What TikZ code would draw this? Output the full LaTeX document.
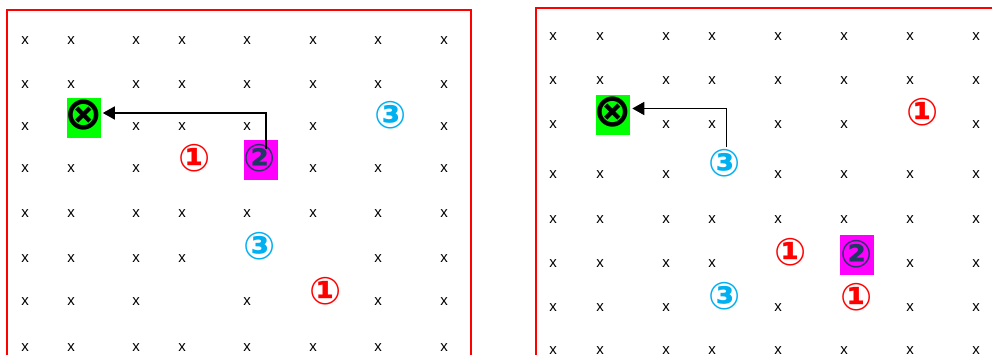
\documentclass[tikz,border=0pt]{standalone}
\usepackage{fontspec}
\setmainfont{Liberation Sans}
\newfontfamily\symf{DejaVu Sans}
\usetikzlibrary{arrows.meta}
\definecolor{myred}{RGB}{255,0,0}
\definecolor{mycyan}{RGB}{0,176,240}
\definecolor{mynavy}{RGB}{31,56,100}
\definecolor{mygreen}{RGB}{0,255,0}
\definecolor{mymag}{RGB}{255,0,255}
\begin{document}
\begin{tikzpicture}[x=1pt,y=-1pt,
  cross/.style={font=\fontsize{15}{15}\selectfont, inner sep=0pt},
  circnum/.style={font=\symf\bfseries\fontsize{38}{38}\selectfont, inner sep=0pt},
  one/.style={circnum, text=myred},
  two/.style={circnum, text=mynavy},
  three/.style={circnum, text=mycyan},
  otimes/.style={font=\symf\bfseries\fontsize{46}{46}\selectfont, inner sep=0pt, outer sep=0pt},
  gbox/.style={fill=mygreen, minimum width=34pt, minimum height=40pt, inner sep=0pt},
  mbox/.style={fill=mymag, minimum width=34pt, minimum height=40pt, inner sep=0pt},
  frame/.style={draw=myred, line width=2pt},
  conn/.style={line width=1.6pt, -{Triangle[length=12pt,width=13pt]}}]
\useasboundingbox (0,0) rectangle (992,355);
\clip (0,0) rectangle (992,355);
\fill[white] (0,0) rectangle (992,355);
% frames
\draw[frame] (7,10) rectangle (471,390);
\draw[frame] (536,8) rectangle (1010,390);
% grid of x - left
\def\Lx{{25,71,136,182,247,313,378,444}}
\foreach \r/\y/\cols in {1/41/{1,2,3,4,5,6,7,8},2/85/{1,2,3,4,5,6,7,8},3/127/{1,3,4,5,6,8},4/169/{1,2,3,6,7,8},5/214/{1,2,3,4,5,6,7,8},6/259/{1,2,3,4,7,8},7/302/{1,2,3,5,7,8},8/348/{1,2,3,4,5,6,7,8}}{
  \foreach \c in \cols {
    \pgfmathsetmacro\xx{\Lx[\c-1]}
    \node[cross] (L\r-\c) at (\xx,\y) {x};
  }
}
% grid of x - right
\def\Rx{{553,600,666,712,778,844,910,976}}
\foreach \r/\y/\cols in {1/37/{1,2,3,4,5,6,7,8},2/81/{1,2,3,4,5,6,7,8},3/125/{1,3,4,5,6,8},4/175/{1,2,3,5,6,7,8},5/220/{1,2,3,4,5,6,7,8},6/264/{1,2,3,4,7,8},7/308/{1,2,3,5,7,8},8/351/{1,2,3,4,5,6,7,8}}{
  \foreach \c in \cols {
    \pgfmathsetmacro\xx{\Rx[\c-1]}
    \node[cross] (R\r-\c) at (\xx,\y) {x};
  }
}
% left panel
\node[gbox] (Lg) at (84,118) {};
\node[otimes] (Lsym) at (83.5,115.5) {⊗};
\node[mbox] (Lm) at (261,160) {};
\node[two] (L2) at (260,158) {②};
\node[one] (L1a) at (195,158) {①};
\node[one] (L1b) at (326,291) {①};
\node[three] (L3a) at (391,115) {③};
\node[three] (L3b) at (260,246) {③};
\coordinate (Ls) at (266,149);
\draw[conn] (Ls) |- ([yshift=2.5pt]Lsym.east);
% right panel
\node[gbox] (Rg) at (613,115) {};
\node[otimes] (Rsym) at (613,112.5) {⊗};
\node[mbox] (Rm) at (857,255) {};
\node[two] (R2) at (857,254) {②};
\node[one] (R1a) at (923,112) {①};
\node[one] (R1b) at (791,252) {①};
\node[one] (R1c) at (857,297) {①};
\node[three] (R3a) at (725,163) {③};
\node[three] (R3b) at (725,296) {③};
\coordinate (Rs) at (726.5,147);
\draw[conn] (Rs) |- ([yshift=4pt]Rsym.east);
\end{tikzpicture}
\end{document}
